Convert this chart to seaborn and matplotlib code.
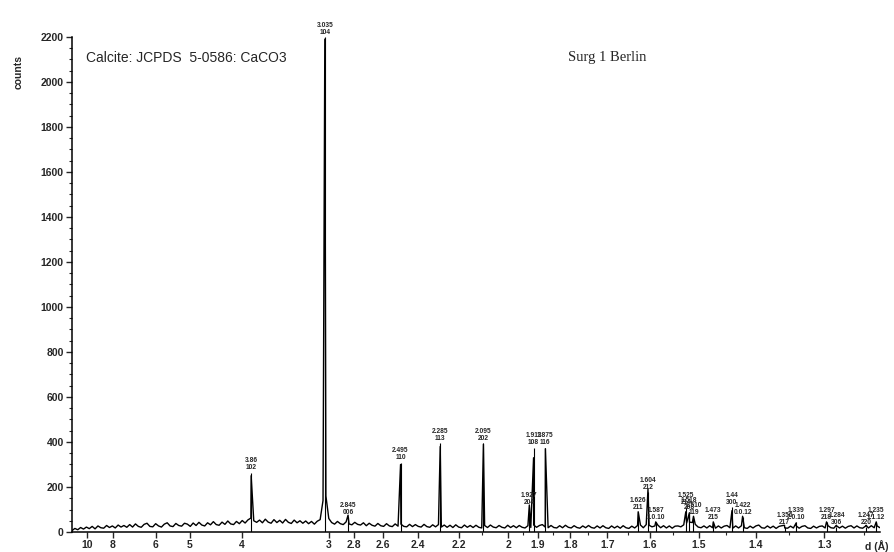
import numpy as np
import pandas as pd
import seaborn as sns
import matplotlib.pyplot as plt

# Cu K-alpha; the scan is linear in 2-theta, the axis is labelled in d (A)
WAVELENGTH = 1.5406

# background counts, one value every 0.25 deg 2-theta starting at 7.5 deg
bg_start = 7.5
bg_step = 0.25
bg_counts = [
    6, 16, 10, 20, 13, 22, 15, 25, 14, 27, 19, 17, 29, 20, 27, 18, 31, 22, 29, 21,
    33, 22, 36, 25, 21, 34, 39, 25, 23, 37, 27, 22, 35, 41, 27, 24, 38, 29, 26, 39,
    35, 25, 40, 29, 43, 31, 27, 41, 32, 46, 33, 30, 44, 34, 49, 36, 33, 47, 37, 51,
    40, 54, 62, 50, 43, 53, 41, 57, 44, 39, 55, 42, 52, 40, 56, 43, 38, 53, 41, 50,
    39, 49, 37, 47, 35, 48, 55, 140, 160, 60, 42, 35, 47, 37, 33, 45, 36, 32, 43, 34,
    31, 41, 28, 39, 30, 26, 38, 28, 25, 37, 27, 24, 36, 26, 35, 25, 23, 34, 24, 33,
    25, 22, 34, 24, 21, 32, 23, 33, 22, 31, 21, 30, 20, 32, 22, 19, 31, 21, 29, 20,
    30, 21, 18, 29, 20, 31, 22, 19, 29, 21, 18, 30, 20, 28, 19, 29, 21, 18, 28, 20,
    31, 21, 29, 33, 22, 19, 29, 20, 18, 28, 19, 30, 21, 18, 28, 20, 17, 27, 19, 29,
    20, 17, 27, 18, 28, 19, 16, 27, 18, 26, 17, 28, 19, 16, 26, 18, 29, 31, 19, 33,
    30, 23, 27, 31, 19, 28, 18, 27, 17, 26, 27, 23, 32, 40, 44, 42, 34, 22, 19, 27,
    18, 28, 19, 17, 27, 18, 26, 29, 19, 17, 27, 18, 28, 19, 16, 26, 18, 27, 31, 19,
    17, 27, 18, 26, 16, 25, 28, 18, 17, 26, 18, 27, 17, 25, 28, 18, 16, 26, 18, 25,
    27, 18, 28, 19, 17, 27, 18, 26, 17, 25, 28, 18, 27, 19, 17, 26, 18, 28, 19, 27,
    19,
]

# calcite reflections: d spacing, measured peak top, JCPDS 5-0586 stick
peak_d = [3.86, 3.035, 2.845, 2.495, 2.285, 2.095, 1.927, 1.913, 1.875,
          1.626, 1.604, 1.587, 1.525, 1.518, 1.510, 1.473, 1.440, 1.422,
          1.356, 1.339, 1.297, 1.284, 1.247, 1.235]
peak_counts = [250, 2190, 75, 300, 380, 390, 120, 330, 370,
               90, 190, 45, 90, 85, 70, 45, 95, 70,
               30, 40, 45, 30, 30, 45]
peak_labels = ["3.86", "3.035", "2.845", "2.495", "2.285", "2.095", "1.927", "1.913", "1.875",
               "1.626", "1.604", "1.587", "1.525", "1.518", "1.510", "1.473", "1.44", "1.422",
               "1.356", "1.339", "1.297", "1.284", "1.247", "1.235"]
peak_hkl = ["102", "104", "006", "110", "113", "202", "204", "108", "116",
            "211", "212", "1.0.10", "214", "208", "119", "215", "300", "0.0.12",
            "217", "2.0.10", "218", "306", "220", "1.1.12"]
stick_int = [12, 100, 3, 14, 18, 18, 5, 17, 17,
             4, 8, 2, 5, 4, 3, 2, 5, 3,
             1, 2, 2, 1, 1, 2]

tick_d = [10, 8, 6, 5, 4, 3, 2.8, 2.6, 2.4, 2.2, 2, 1.9, 1.8, 1.7, 1.6, 1.5, 1.4, 1.3]
tick_labels = ["10", "8", "6", "5", "4", "3", "2.8", "2.6", "2.4", "2.2", "2",
               "1.9", "1.8", "1.7", "1.6", "1.5", "1.4", "1.3"]
minor_d = [2.1, 1.95, 1.85, 1.75, 1.65, 1.55, 1.45, 1.35, 1.25]

Y_TOP = 2200


def two_theta(d):
    return 2 * np.degrees(np.arcsin(WAVELENGTH / (2 * np.asarray(d, dtype=float))))


bg_x = bg_start + bg_step * np.arange(len(bg_counts))
scan = pd.DataFrame({
    "two_theta": np.concatenate([bg_x, two_theta(peak_d)]),
    "counts": np.concatenate([bg_counts, peak_counts]),
}).sort_values("two_theta")

sns.set_theme(style="ticks")
plt.rcParams["font.family"] = ["Liberation Sans", "DejaVu Sans"]

fig = plt.figure(figsize=(8.94, 5.52), dpi=100)
ax = fig.add_axes([0.0805, 0.0362, 0.9038, 0.897])

sns.lineplot(data=scan, x="two_theta", y="counts", color="black", lw=1.0,
             errorbar=None, ax=ax)

# JCPDS sticks with d / hkl labels
px = two_theta(peak_d)
for x, i, lab, hkl in zip(px, stick_int, peak_labels, peak_hkl):
    h = i * Y_TOP / 100.0
    ax.vlines(x, 0, h, color="black", lw=0.8)
    ax.text(x, h + 6, lab + "\n" + hkl, ha="center", va="bottom", fontsize=4.8,
            fontweight="bold", linespacing=1.0, clip_on=False)

ax.set_xlim(7.5, 77.5)
ax.set_ylim(0, Y_TOP)
ax.set_xticks(two_theta(tick_d))
ax.set_xticklabels(tick_labels)
ax.set_xticks(two_theta(minor_d), minor=True)
ax.set_yticks(np.arange(0, 2201, 200))
ax.set_yticks(np.arange(0, 2201, 50), minor=True)
ax.tick_params(axis="both", which="major", labelsize=7.5, length=4, width=1, pad=2)
ax.tick_params(axis="both", which="minor", length=2.5, width=0.8)
for lab in ax.get_xticklabels() + ax.get_yticklabels():
    lab.set_fontweight("bold")
ax.set_xlabel("")
ax.set_ylabel("")
sns.despine(ax=ax)
for sp in ("left", "bottom"):
    ax.spines[sp].set_linewidth(1.1)
    ax.spines[sp].set_color("black")

fig.text(19 / 894, 1 - 72 / 552, "counts", rotation=90, ha="center", va="center",
         fontsize=7.5, fontweight="bold")
fig.text(86 / 894, 1 - 58 / 552, "Calcite: JCPDS  5-0586: CaCO3", ha="left",
         va="center", fontsize=10)
fig.text(568 / 894, 1 - 58 / 552, "Surg 1 Berlin", ha="left", va="center",
         fontsize=10.5, family=["Liberation Serif", "DejaVu Serif"])
fig.text(877 / 894, 1 - 546 / 552, "d (Å)", ha="center", va="center",
         fontsize=7.5, fontweight="bold")

fig.savefig("out.png", dpi=100, facecolor="white")
